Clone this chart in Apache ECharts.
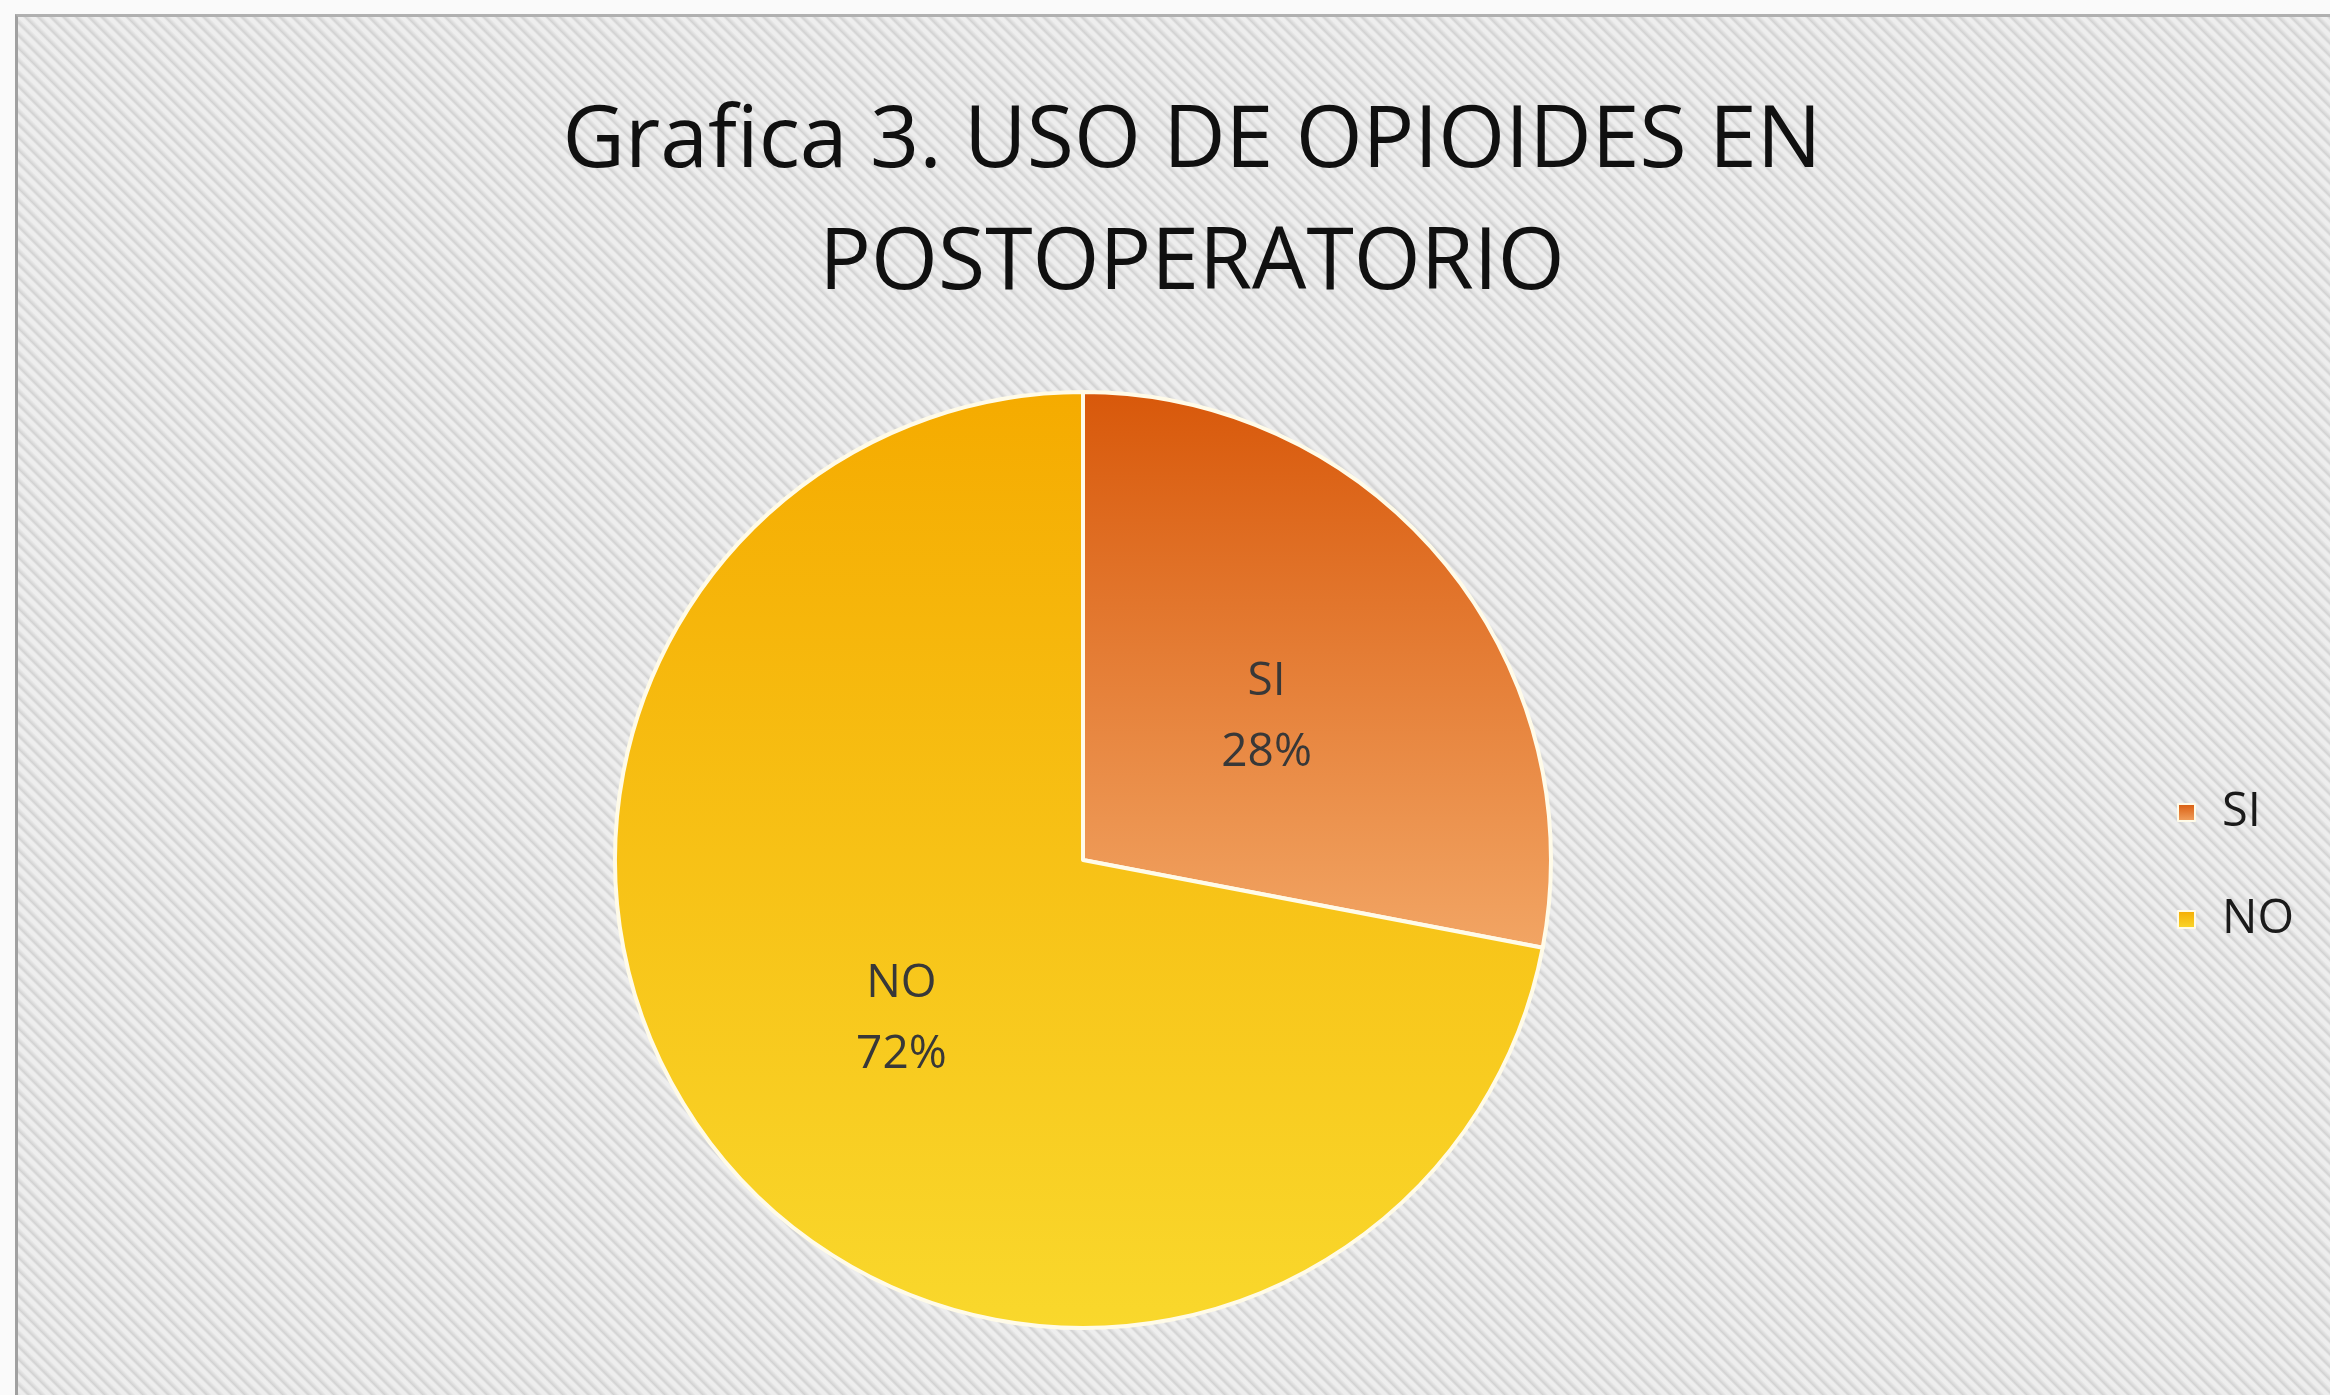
<!DOCTYPE html>
<html>
<head>
<meta charset="utf-8">
<script src="https://cdn.jsdelivr.net/npm/echarts@6/dist/echarts.min.js"></script>
<style>
  html, body { margin: 0; padding: 0; background: #fafafa; }
  #paper {
    position: absolute; left: 15px; top: 14px; width: 2330px; height: 1400px;
    border-left: 3px solid #a0a0a0; border-top: 3px solid #b0b0b0;
    background-color: #e4e4e4;
    background-image: repeating-linear-gradient(45deg, #eeeeee 0px, #eeeeee 3px, #d2d2d2 5px, #e0e0e0 7px, #eeeeee 9px);
  }
  #chart { position: absolute; left: 0; top: 0; width: 2330px; height: 1395px; }
</style>
</head>
<body>
<div id="paper"></div>
<div id="chart"></div>
<script>
// Opioid use after surgery: share of patients
const categories = ['SI', 'NO'];
const values = [28, 72];
const titleLines = ['Grafica 3. USO DE OPIOIDES EN', 'POSTOPERATORIO'];

// vertical gradient per slice (top colour, bottom colour)
const sliceColors = [
  ['#d8580a', '#f2a564'],
  ['#f5ab00', '#f9d82c']
];

const chart = echarts.init(document.getElementById('chart'), null, { renderer: 'canvas' });

const pieData = categories.map((name, i) => ({
  name: name,
  value: values[i],
  itemStyle: {
    color: new echarts.graphic.LinearGradient(0, 0, 0, 1, [
      { offset: 0, color: sliceColors[i][0] },
      { offset: 1, color: sliceColors[i][1] }
    ])
  }
}));

chart.setOption({
  backgroundColor: 'transparent',
  animation: false,
  title: {
    text: titleLines.join('\n'),
    left: 1187,
    top: 76,
    textAlign: 'center',
    textStyle: {
      fontFamily: 'Open Sans',
      fontWeight: 'normal',
      fontSize: 86,
      lineHeight: 122,
      color: '#101010'
    }
  },
  legend: {
    orient: 'vertical',
    left: 2172,
    top: 784,
    itemWidth: 17,
    itemHeight: 17,
    itemGap: 60,
    icon: 'rect',
    data: categories,
    textStyle: {
      fontFamily: 'Open Sans',
      fontSize: 47,
      color: '#1a1a1a',
      padding: [0, 0, 0, 22]
    }
  },
  series: [{
    type: 'pie',
    center: [1083, 860],
    radius: 468,
    startAngle: 90,
    clockwise: true,
    avoidLabelOverlap: false,
    data: pieData,
    itemStyle: {
      borderColor: '#fffbe8',
      borderWidth: 4
    },
    label: {
      show: true,
      position: 'inside',
      formatter: '{b}\n{d}%',
      fontFamily: 'Open Sans',
      fontSize: 46,
      lineHeight: 71,
      color: '#383838',
      offset: [1, 8]
    },
    labelLine: { show: false },
    emphasis: { disabled: true }
  }]
});
</script>
</body>
</html>
